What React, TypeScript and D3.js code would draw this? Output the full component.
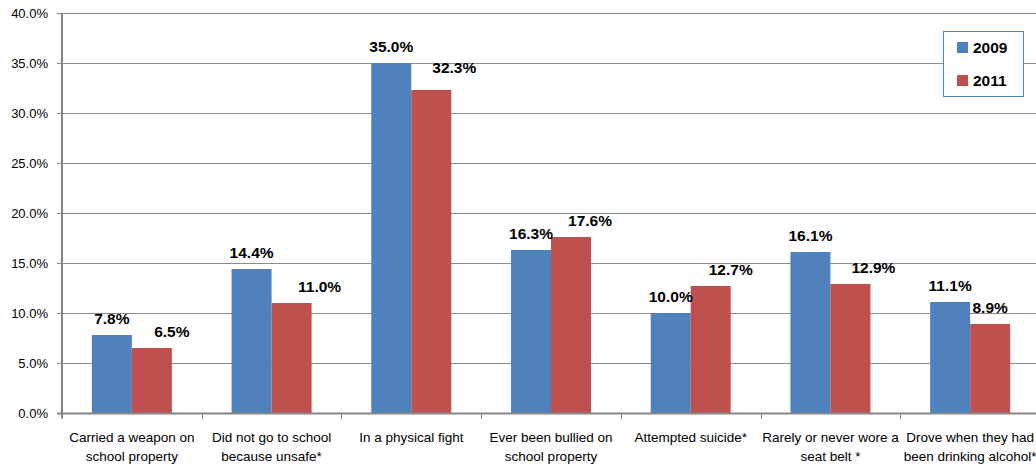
import React, { useEffect, useRef } from 'react';
import * as d3 from 'd3';

const categories: string[][] = [
  ['Carried a weapon on', 'school property'],
  ['Did not go to school', 'because unsafe*'],
  ['In a physical fight'],
  ['Ever been bullied on', 'school property'],
  ['Attempted suicide*'],
  ['Rarely or never wore a', 'seat belt *'],
  ['Drove when they had', 'been drinking alcohol*'],
];
const seriesNames = ['2009', '2011'];
const values2009 = [7.8, 14.4, 35.0, 16.3, 10.0, 16.1, 11.1];
const values2011 = [6.5, 11.0, 32.3, 17.6, 12.7, 12.9, 8.9];
const yTicks = [0, 5, 10, 15, 20, 25, 30, 35, 40];

const colors = ['#4F81BD', '#C0504D'];

const App: React.FC = () => {
  const svgRef = useRef<SVGSVGElement | null>(null);

  useEffect(() => {
    document.body.style.margin = '0';
    if (!svgRef.current) return;
    const svg = d3.select(svgRef.current);
    svg.selectAll('*').remove();

    const width = 1036;
    const height = 466;
    const margin = { top: 13, left: 62, bottom: 53 };
    const plotRight = 1040; // plot runs slightly past the visible edge
    const font = '"Liberation Sans", Arial, sans-serif';

    const x0 = d3.scaleBand<number>()
      .domain(d3.range(categories.length))
      .range([margin.left, plotRight]);
    const groupWidth = 80;
    const x1 = d3.scaleBand<string>().domain(seriesNames).range([0, groupWidth]);
    const y = d3.scaleLinear().domain([0, 40]).range([height - margin.bottom, margin.top]);

    const fmt = (v: number) => `${v.toFixed(1)}%`;

    // gridlines
    svg.append('g')
      .selectAll('line')
      .data(yTicks.filter(t => t > 0))
      .join('line')
        .attr('x1', margin.left)
        .attr('x2', width)
        .attr('y1', d => y(d) + 0.5)
        .attr('y2', d => y(d) + 0.5)
        .attr('stroke', '#8C8C8C')
        .attr('stroke-width', 1);

    // y tick marks and labels
    const yAxis = svg.append('g');
    yAxis.selectAll('line')
      .data(yTicks)
      .join('line')
        .attr('x1', margin.left - 5)
        .attr('x2', margin.left)
        .attr('y1', d => y(d) + 0.5)
        .attr('y2', d => y(d) + 0.5)
        .attr('stroke', '#868686');
    yAxis.selectAll('text')
      .data(yTicks)
      .join('text')
        .attr('x', 48)
        .attr('y', d => y(d) + 5)
        .attr('text-anchor', 'end')
        .attr('font-family', font)
        .attr('font-size', 13)
        .attr('fill', '#000')
        .text(d => fmt(d));

    // bars
    const groups = svg.append('g')
      .selectAll('g')
      .data(categories.map((_, i) => i))
      .join('g')
        .attr('transform', i => `translate(${x0(i)! + (x0.bandwidth() - groupWidth) / 2},0)`);

    const seriesValues = [values2009, values2011];
    groups.selectAll('rect')
      .data(i => seriesNames.map((s, k) => ({ s, k, v: seriesValues[k][i] })))
      .join('rect')
        .attr('x', d => x1(d.s)!)
        .attr('width', x1.bandwidth())
        .attr('y', d => y(d.v))
        .attr('height', d => y(0) - y(d.v))
        .attr('fill', d => colors[d.k]);

    // value labels (2011 labels are nudged sideways as in the original)
    const redShift = [20, 28, 23, 19, 20, 23, 0];
    const redLift = [11, 11, 17, 11, 11, 11, 11];
    groups.selectAll('text')
      .data(i => seriesNames.map((s, k) => ({ s, k, i, v: seriesValues[k][i] })))
      .join('text')
        .attr('x', d => x1(d.s)! + x1.bandwidth() / 2 + (d.k === 1 ? redShift[d.i] : 0))
        .attr('y', d => y(d.v) - (d.k === 1 ? redLift[d.i] : 11))
        .attr('text-anchor', 'middle')
        .attr('font-family', font)
        .attr('font-weight', 'bold')
        .attr('font-size', 15.5)
        .attr('fill', '#000')
        .text(d => fmt(d.v));

    // axes lines
    svg.append('line')
      .attr('x1', margin.left)
      .attr('x2', margin.left)
      .attr('y1', y(40))
      .attr('y2', y(0) + 5)
      .attr('stroke', '#868686')
      .attr('stroke-width', 2);
    svg.append('line')
      .attr('x1', margin.left - 5)
      .attr('x2', width)
      .attr('y1', y(0) + 0.5)
      .attr('y2', y(0) + 0.5)
      .attr('stroke', '#868686')
      .attr('stroke-width', 2);

    // x tick marks at band boundaries
    svg.append('g')
      .selectAll('line')
      .data(categories.map((_, i) => i))
      .join('line')
        .attr('x1', i => Math.round(x0(i)!) + 0.5)
        .attr('x2', i => Math.round(x0(i)!) + 0.5)
        .attr('y1', y(0))
        .attr('y2', y(0) + 6)
        .attr('stroke', '#868686');

    // category labels
    const catText = svg.append('g')
      .selectAll('text')
      .data(categories.map((lines, i) => ({ lines, i })))
      .join('text')
        .attr('text-anchor', 'middle')
        .attr('font-family', font)
        .attr('font-size', 13.5)
        .attr('fill', '#000');
    catText.selectAll('tspan')
      .data(d => d.lines.map((l, j) => ({ l, j, i: d.i })))
      .join('tspan')
        .attr('x', d => x0(d.i)! + x0.bandwidth() / 2)
        .attr('y', d => 442 + d.j * 19)
        .text(d => d.l);

    // legend
    const legend = svg.append('g').attr('transform', 'translate(943,31)');
    legend.append('rect')
      .attr('x', 0.5)
      .attr('y', 0.5)
      .attr('width', 80)
      .attr('height', 65)
      .attr('fill', '#fff')
      .attr('stroke', '#4F81BD');
    const items = legend.selectAll('g.item')
      .data(seriesNames)
      .join('g')
        .attr('class', 'item')
        .attr('transform', (_, k) => `translate(14,${11 + k * 33})`);
    items.append('rect')
      .attr('width', 11)
      .attr('height', 11)
      .attr('fill', (_, k) => colors[k]);
    items.append('text')
      .attr('x', 16)
      .attr('y', 11)
      .attr('font-family', font)
      .attr('font-weight', 'bold')
      .attr('font-size', 15.5)
      .attr('fill', '#000')
      .text(d => d);
  }, []);

  return <svg ref={svgRef} width={1036} height={466} style={{ display: 'block', background: '#fff' }} />;
};

export default App;
